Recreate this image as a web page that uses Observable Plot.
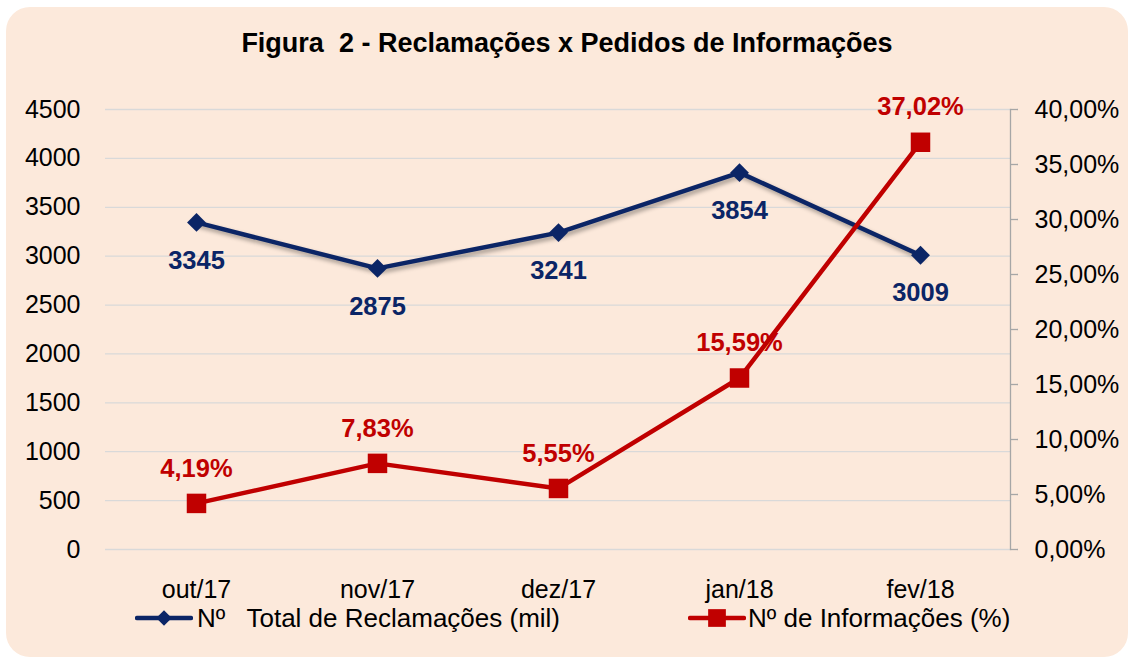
<!DOCTYPE html>
<html>
<head>
<meta charset="utf-8">
<script src="https://cdn.jsdelivr.net/npm/d3@7"></script>
<script src="https://cdn.jsdelivr.net/npm/@observablehq/plot@0.6"></script>
<style>
  html, body { margin: 0; padding: 0; background: #ffffff; }
  body { width: 1132px; height: 661px; position: relative; overflow: hidden; font-family: "Liberation Sans", Arial, sans-serif; }
  #panel { position: absolute; left: 6px; top: 7px; width: 1122px; height: 650px; background: #FCE9DB; border-radius: 24px; }
  #title { position: absolute; left: 6px; width: 1122px; top: 30px; text-align: center; font-weight: bold; font-size: 27px; line-height: 1; color: #000; white-space: pre; }
  #chart { position: absolute; left: 0; top: 80px; }
  .leg { position: absolute; font-size: 26px; line-height: 1; color: #000; white-space: pre; }
  .sw { position: absolute; }
</style>
</head>
<body>
<div id="panel"></div>
<div id="title"></div>
<div id="chart"></div>
<div id="legend"></div>
<script>
const categories = ["out/17", "nov/17", "dez/17", "jan/18", "fev/18"];
const reclamacoes = [3345, 2875, 3241, 3854, 3009];
const informacoes = [4.19, 7.83, 5.55, 15.59, 37.02];
const leftTicks = [0, 500, 1000, 1500, 2000, 2500, 3000, 3500, 4000, 4500];
const rightTicks = [0, 5, 10, 15, 20, 25, 30, 35, 40];
const titleText = "Figura  2 - Reclamações x Pedidos de Informações";
const seriesNames = ["Nº   Total de Reclamações (mil)", "Nº de Informações (%)"];

const BLUE = "#0B2566";
const RED = "#C00000";
const leftMax = 4500, rightMax = 40;
const k = leftMax / rightMax;
const pct = v => v.toFixed(2).replace(".", ",") + "%";

const blueData = categories.map((c, i) => ({cat: c, v: reclamacoes[i]}));
const redData = categories.map((c, i) => ({cat: c, p: informacoes[i], v: informacoes[i] * k}));

document.getElementById("title").textContent = titleText;

const chart = Plot.plot({
  width: 1132,
  height: 520,
  marginLeft: 105,
  marginRight: 122,
  marginTop: 29,
  marginBottom: 51,
  style: {background: "transparent", fontFamily: "'Liberation Sans', Arial, sans-serif", color: "#000", overflow: "visible"},
  x: {type: "point", domain: categories, padding: 0.5, axis: null},
  y: {domain: [0, leftMax], axis: null},
  marks: [
    Plot.gridY(leftTicks, {stroke: "#d9d9d9", strokeOpacity: 1, strokeWidth: 1.3}),
    Plot.axisY(leftTicks, {anchor: "left", label: null, tickSize: 0, tickPadding: 25, fontSize: 25, fill: "#000", tickFormat: d => String(d)}),
    Plot.axisY(rightTicks.map(t => t * k), {anchor: "right", label: null, tickSize: 7, tickPadding: 17, fontSize: 25, fill: "#000", stroke: "#a6a6a6", strokeWidth: 1.3, tickFormat: d => pct(d / k)}),
    Plot.frame({anchor: "right", stroke: "#a6a6a6", strokeWidth: 1.3}),
    Plot.axisX({anchor: "bottom", label: null, tickSize: 0, tickPadding: 31, fontSize: 25, fill: "#000"}),
    Plot.line(blueData, {x: "cat", y: "v", stroke: BLUE, strokeWidth: 4.5, ariaDescription: "blue-line"}),
    Plot.dot(blueData, {x: "cat", y: "v", symbol: "diamond2", r: 8.5, fill: BLUE, stroke: "none"}),
    Plot.line(redData, {x: "cat", y: "v", stroke: RED, strokeWidth: 4.5}),
    Plot.dot(redData, {x: "cat", y: "v", symbol: "square", r: 11, fill: RED, stroke: "none"}),
    Plot.text(blueData, {x: "cat", y: "v", text: d => String(d.v), dy: 38, fill: BLUE, fontSize: 25.5, fontWeight: "bold"}),
    Plot.text(redData, {x: "cat", y: "v", text: d => pct(d.p), dy: -35, fill: RED, fontSize: 25.5, fontWeight: "bold"})
  ]
});
document.getElementById("chart").appendChild(chart);
d3.select(chart).selectAll('g[aria-description="blue-line"] path')
  .style("filter", "drop-shadow(2px 3px 2px rgba(0,0,0,0.35))");

// legend
const legend = document.getElementById("legend");
function swatch(left, color, symbol, r) {
  const s = d3.create("svg").attr("class", "sw").attr("width", 58).attr("height", 24)
    .style("left", left + "px").style("top", (618 - 12) + "px");
  s.append("line").attr("x1", 2).attr("x2", 56).attr("y1", 12).attr("y2", 12)
    .attr("stroke", color).attr("stroke-width", 4.5).attr("stroke-linecap", "round");
  s.append("path").attr("transform", "translate(29,12)")
    .attr("d", d3.symbol(symbol, Math.PI * r * r)()).attr("fill", color);
  legend.appendChild(s.node());
}
function label(left, text) {
  const el = document.createElement("div");
  el.className = "leg";
  el.style.left = left + "px";
  el.style.top = "605px";
  el.textContent = text;
  legend.appendChild(el);
}
swatch(135, BLUE, d3.symbolDiamond2, 7);
label(197, seriesNames[0]);
swatch(688, RED, d3.symbolSquare, 10);
label(748, seriesNames[1]);
</script>
</body>
</html>
